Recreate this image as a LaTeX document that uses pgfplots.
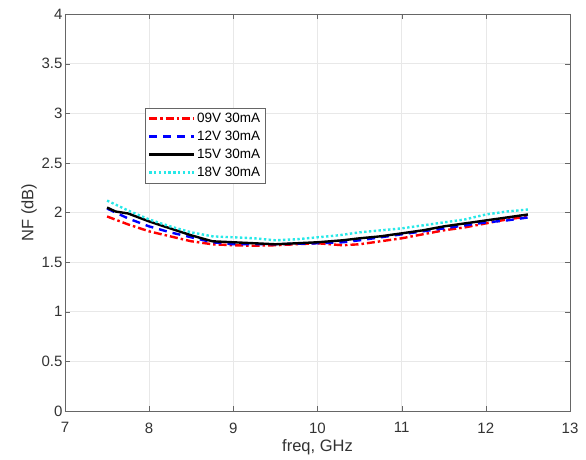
\documentclass[border=0pt]{standalone}
\usepackage{pgfplots}
\pgfplotsset{compat=1.18}
\usepackage{fontspec}
\setmainfont{Liberation Sans}
\definecolor{mycyan}{RGB}{40,232,232}
\begin{document}
\begin{tikzpicture}
\begin{axis}[
  name=ax,
  scale only axis, width=505pt, height=397pt,
  xmin=7, xmax=13, ymin=0, ymax=4,
  xtick={7,...,13}, ytick={0,0.5,...,4},
  /pgf/number format/assume math mode=true,
  tick label style={font=\fontsize{15}{17}\selectfont, text=black!80},
  xticklabel style={yshift=-8pt},
  yticklabel style={xshift=1pt},
  label style={font=\fontsize{16.5}{18}\selectfont, text=black!80},
  xlabel={freq, GHz}, ylabel={NF (dB)},
  xlabel style={yshift=0pt},
  ylabel style={yshift=-2pt},
  grid=major, major grid style={gray!18, line width=0.5pt},
  axis line style={black!60}, tick style={black!60},
  tick align=inside, xtick pos=both, ytick pos=both,
  major tick length=5pt,
  legend style={at={(0.158,0.763)}, anchor=north west, draw=black!60,
    font=\fontsize{13.5}{15}\selectfont, row sep=3.5pt, inner xsep=3pt, inner ysep=3pt,
    nodes={inner sep=1.8pt}},
  legend cell align=left,
  legend image code/.code={\draw[#1] (0pt,0pt) -- (45pt,0pt);},
]
\addplot[red, line width=2.4pt, dash pattern=on 8pt off 3pt on 2.5pt off 3pt] coordinates {
(7.5,1.96)(7.75,1.88)(8,1.81)(8.25,1.76)(8.5,1.71)(8.75,1.68)(9,1.67)(9.25,1.665)(9.5,1.67)(9.75,1.68)(10,1.69)(10.3,1.67)(10.5,1.68)(10.75,1.71)(11,1.74)(11.25,1.78)(11.5,1.82)(11.75,1.85)(12,1.89)(12.25,1.93)(12.5,1.96)};
\addlegendentry{09V 30mA}
\addplot[blue, line width=2.4pt, dash pattern=on 8pt off 6pt] coordinates {
(7.5,2.04)(7.75,1.94)(8,1.86)(8.25,1.80)(8.5,1.75)(8.75,1.70)(9,1.68)(9.25,1.68)(9.5,1.68)(9.75,1.685)(10,1.69)(10.3,1.70)(10.5,1.72)(10.75,1.75)(11,1.78)(11.25,1.81)(11.5,1.84)(11.75,1.87)(12,1.90)(12.25,1.92)(12.5,1.95)};
\addlegendentry{12V 30mA}
\addplot[black, line width=2.4pt] coordinates {
(7.5,2.05)(7.6,2.01)(7.75,1.99)(8,1.91)(8.25,1.84)(8.5,1.77)(8.75,1.71)(9,1.70)(9.25,1.69)(9.5,1.68)(9.75,1.69)(10,1.70)(10.3,1.72)(10.5,1.74)(10.75,1.76)(11,1.79)(11.25,1.82)(11.5,1.86)(11.75,1.89)(12,1.92)(12.25,1.95)(12.5,1.98)};
\addlegendentry{15V 30mA}
\addplot[mycyan, line width=2.4pt, dash pattern=on 2.4pt off 2.4pt] coordinates {
(7.5,2.12)(7.75,2.02)(8,1.93)(8.25,1.86)(8.5,1.80)(8.75,1.76)(9,1.75)(9.25,1.74)(9.5,1.72)(9.75,1.73)(10,1.75)(10.25,1.77)(10.5,1.80)(10.75,1.82)(11,1.84)(11.25,1.87)(11.5,1.90)(11.75,1.93)(12,1.98)(12.25,2.01)(12.5,2.03)};
\addlegendentry{18V 30mA}
\end{axis}
\pgfresetboundingbox
\path ([shift={(-65pt,-49pt)}]ax.south west) rectangle ([shift={(16pt,14pt)}]ax.north east);
\end{tikzpicture}
\end{document}
